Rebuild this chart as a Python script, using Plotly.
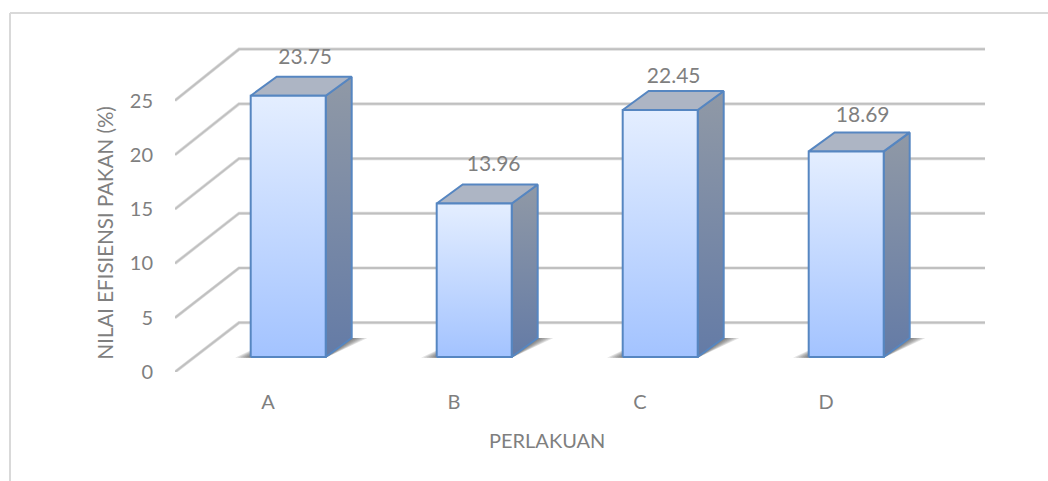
import plotly.graph_objects as go

categories = ["A", "B", "C", "D"]
values = [23.75, 13.96, 22.45, 18.69]
value_ticks = [0, 5, 10, 15, 20, 25]
y_title = "NILAI EFISIENSI PAKAN (%)"
x_title = "PERLAKUAN"

W, H = 1048, 481
L, R, T, B = 175, 63, 40, 109
PX_CAT = 186.0
PX_VAL = 11.0
X_MIN = -(268 - 175) / PX_CAT
X_MAX = (985 - 268) / PX_CAT
Y_MAX = (372 - T) / PX_VAL

WALL_DX, WALL_DY = 64 / PX_CAT, 49.3 / PX_VAL
FRONT_SCALE = 54.3 / 55   # the near edge of the floor/wall is foreshortened
BACK_SCALE = 54.7 / 55
BAR_DX, BAR_DY = 20.2 / PX_CAT, 15 / PX_VAL
DEPTH_DX, DEPTH_DY = 26 / PX_CAT, 19 / PX_VAL
BAR_W = 75 / PX_CAT
LABEL_DX = [17 / PX_CAT, 19.5 / PX_CAT, 13.5 / PX_CAT, 16.5 / PX_CAT]
LABEL_DY = [37 / PX_VAL, 38 / PX_VAL, 32.5 / PX_VAL, 35 / PX_VAL]

GRAY = "#7f7f7f"
EDGE = "#5686c1"
FONT = "Lato"

fig = go.Figure()


def poly(xs, ys, **kw):
    fig.add_trace(go.Scatter(x=xs + xs[:1], y=ys + ys[:1], mode="lines", fill="toself",
                             hoverinfo="skip", showlegend=False, **kw))


# wall + floor gridlines
for v in value_ticks:
    gx = [X_MIN, X_MIN + WALL_DX, X_MAX]
    gy = [v * FRONT_SCALE, v * BACK_SCALE + WALL_DY, v * BACK_SCALE + WALL_DY]
    fig.add_trace(go.Scatter(x=gx, y=gy, mode="lines", line=dict(color="#dcdcdc", width=3.2),
                             hoverinfo="skip", showlegend=False))
    fig.add_trace(go.Scatter(x=gx, y=gy, mode="lines", line=dict(color="#c0c0c0", width=1.8),
                             hoverinfo="skip", showlegend=False))

# soft base shadows, then the bar faces
for i, v in enumerate(values):
    x0 = i + BAR_DX - BAR_W / 2
    x1 = x0 + BAR_W
    y0 = BAR_DY
    for k in range(1, 7):
        g = (7 - k) * 2.6 / PX_CAT
        poly([x0 - g, x1, x1 + DEPTH_DX + g, x0 + DEPTH_DX],
             [y0 - 0.06, y0 - 0.06, y0 + DEPTH_DY, y0 + DEPTH_DY],
             line=dict(width=0), fillcolor="rgba(60,60,60,0.15)")
    ytop = y0 + v
    poly([x1, x1 + DEPTH_DX, x1 + DEPTH_DX, x1],
         [y0, y0 + DEPTH_DY, ytop + DEPTH_DY, ytop],
         line=dict(color=EDGE, width=2),
         fillgradient=dict(type="vertical", colorscale=[[0, "#647ba6"], [1, "#9099a6"]]))
    poly([x0, x1, x1 + DEPTH_DX, x0 + DEPTH_DX],
         [ytop, ytop, ytop + DEPTH_DY, ytop + DEPTH_DY],
         line=dict(color=EDGE, width=2), fillcolor="#adb5c4")
    poly([x0, x1, x1, x0], [y0, y0, ytop, ytop],
         line=dict(color=EDGE, width=2),
         fillgradient=dict(type="vertical", colorscale=[[0, "#a3c3ff"], [1, "#e4eeff"]]))

# data labels
fig.add_trace(go.Scatter(
    x=[i + BAR_DX + LABEL_DX[i] for i in range(len(values))],
    y=[BAR_DY + v + LABEL_DY[i] for i, v in enumerate(values)],
    mode="text", text=[f"{v:.2f}" for v in values], textposition="middle center",
    textfont=dict(family=FONT, size=21, color=GRAY),
    hoverinfo="skip", showlegend=False, cliponaxis=False))

# paper coordinates relative to the whole canvas
dom_w, dom_h = W - L - R, H - T - B
fx = lambda p: (p - L) / dom_w
fy = lambda p: (H - B - p) / dom_h

fig.add_shape(type="line", xref="paper", yref="paper", x0=fx(10), x1=fx(1048), y0=fy(13), y1=fy(13),
              line=dict(color="#d9d9d9", width=2))
fig.add_shape(type="line", xref="paper", yref="paper", x0=fx(10), x1=fx(10), y0=fy(13), y1=fy(481),
              line=dict(color="#d9d9d9", width=2))

fig.add_annotation(text=y_title, xref="paper", yref="paper", x=fx(105), y=fy(233.5), textangle=-90,
                   xanchor="center", yanchor="middle",
                   showarrow=False, font=dict(family=FONT, size=20.5, color=GRAY))
fig.add_annotation(text=x_title, xref="paper", yref="paper", x=fx(547), y=fy(440),
                   xanchor="center", yanchor="middle",
                   showarrow=False, font=dict(family=FONT, size=20, color=GRAY))

fig.update_layout(
    width=W, height=H, margin=dict(l=L, r=R, t=T, b=B), autosize=False,
    paper_bgcolor="white", plot_bgcolor="white", showlegend=False,
    xaxis=dict(range=[X_MIN, X_MAX], tickmode="array", tickvals=list(range(len(categories))),
               ticktext=categories, showgrid=False, zeroline=False, showline=False, ticks="",
               ticklabelstandoff=16, tickfont=dict(family=FONT, size=20, color=GRAY)),
    yaxis=dict(range=[0, Y_MAX], tickmode="array",
               tickvals=[v * FRONT_SCALE for v in value_ticks],
               ticktext=[str(v) for v in value_ticks], showgrid=False,
               zeroline=False, showline=False, ticks="", ticklabelstandoff=21,
               tickfont=dict(family=FONT, size=20, color=GRAY)),
)

fig.write_html("out.html", config={"displayModeBar": False},
               post_script="document.body.style.margin='0';")
